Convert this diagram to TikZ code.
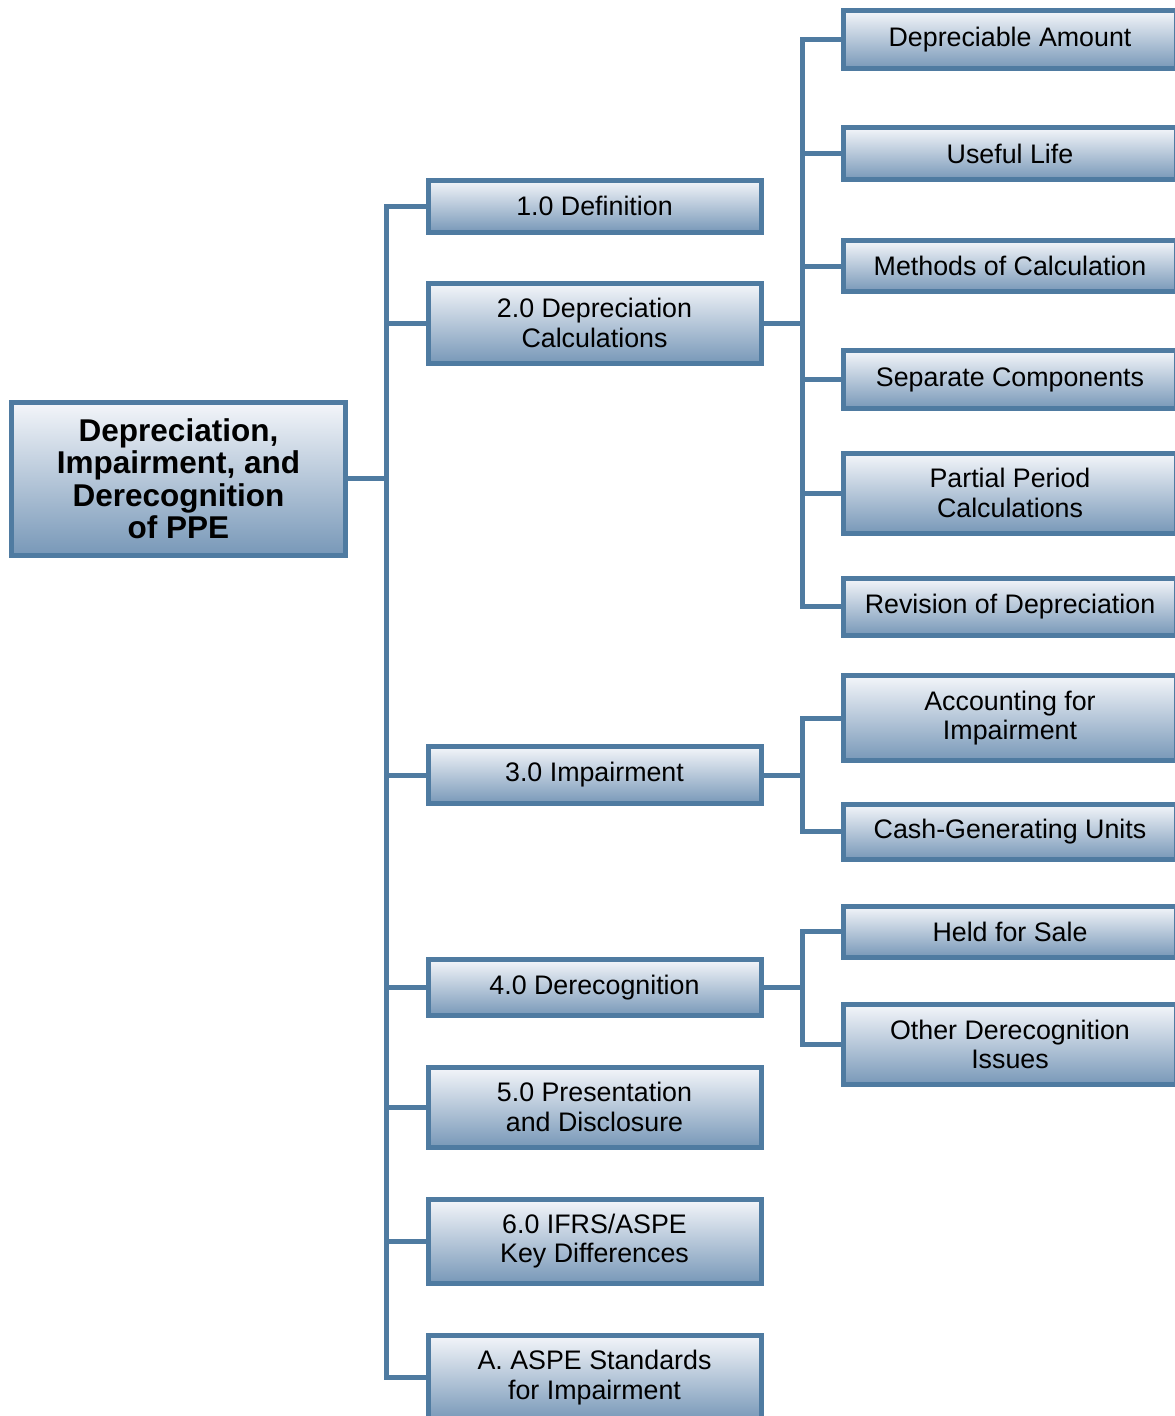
\documentclass[tikz,border=0pt]{standalone}
\usepackage{fontspec}
\setmainfont{Liberation Sans}
\definecolor{bordc}{HTML}{4F7BA1}
\definecolor{topc}{HTML}{F4F6FA}
\definecolor{botc}{HTML}{7898B8}
\tikzset{
  box/.style={draw=bordc, line width=5pt, top color=topc, bottom color=botc,
    minimum width=333pt, inner sep=0pt, outer sep=0pt, align=center,
    font=\fontsize{26.8}{29.5}\selectfont},
  rootbox/.style={box, minimum width=334pt, minimum height=153pt,
    font=\fontsize{31.5}{32.5}\selectfont\bfseries},
  conn/.style={draw=bordc, line width=5pt, line join=miter},
}
\begin{document}
\begin{tikzpicture}[x=1pt,y=-1pt]
\clip (0,0) rectangle (1175,1416);
\fill[white] (0,0) rectangle (1175,1416);
% root
\node[rootbox] (root) at (178.5,478.5) {Depreciation,\\Impairment, and\\Derecognition\\of PPE};
% level 1
\node[box, minimum height=52pt] (def) at (594.5,206) {1.0 Definition};
\node[box, minimum height=80pt] (dep) at (594.5,323) {2.0 Depreciation\\Calculations};
\node[box, minimum height=57pt] (imp) at (594.5,775) {3.0 Impairment};
\node[box, minimum height=56pt] (der) at (594.5,987.5) {4.0 Derecognition};
\node[box, minimum height=80pt] (pre) at (594.5,1107) {5.0 Presentation\\and Disclosure};
\node[box, minimum height=84pt] (ifr) at (594.5,1241) {6.0 IFRS/ASPE\\Key Differences};
\node[box, minimum height=85pt] (asp) at (594.5,1377.5) {A. ASPE Standards\\for Impairment};
% level 2
\node[box, minimum height=58pt] (da) at (1010,39.5) {Depreciable Amount};
\node[box, minimum height=52pt] (ul) at (1010,153.5) {Useful Life};
\node[box, minimum height=51pt] (mc) at (1010,266) {Methods of Calculation};
\node[box, minimum height=58pt] (sc) at (1010,379.5) {Separate Components};
\node[box, minimum height=80pt] (pp) at (1010,493) {Partial Period\\Calculations};
\node[box, minimum height=57pt] (rd) at (1010,606.5) {Revision of Depreciation};
\node[box, minimum height=85pt] (ai) at (1010,718) {Accounting for\\Impairment};
\node[box, minimum height=55pt] (cg) at (1010,831.5) {Cash-Generating Units};
\node[box, minimum height=51pt] (hs) at (1010,931.5) {Held for Sale};
\node[box, minimum height=80pt] (od) at (1010,1044.5) {Other Derecognition\\Issues};
% trunk coordinates
\coordinate (t1) at (386.5,0);
\coordinate (t2) at (802.5,0);
% main trunk
\draw[conn] (def.west) -- (t1 |- def.west) -- (t1 |- asp.west) -- (asp.west);
\draw[conn] (root.east) -- (t1 |- root.east);
\foreach \n in {dep,imp,der,pre,ifr} \draw[conn] (t1 |- \n.west) -- (\n.west);
% depreciation branch
\draw[conn] (da.west) -- (t2 |- da.west) -- (t2 |- rd.west) -- (rd.west);
\draw[conn] (dep.east) -- (t2 |- dep.east);
\foreach \n in {ul,mc,sc,pp} \draw[conn] (t2 |- \n.west) -- (\n.west);
% impairment branch
\draw[conn] (ai.west) -- (t2 |- ai.west) -- (t2 |- cg.west) -- (cg.west);
\draw[conn] (imp.east) -- (t2 |- imp.east);
% derecognition branch
\draw[conn] (hs.west) -- (t2 |- hs.west) -- (t2 |- od.west) -- (od.west);
\draw[conn] (der.east) -- (t2 |- der.east);
\end{tikzpicture}
\end{document}
